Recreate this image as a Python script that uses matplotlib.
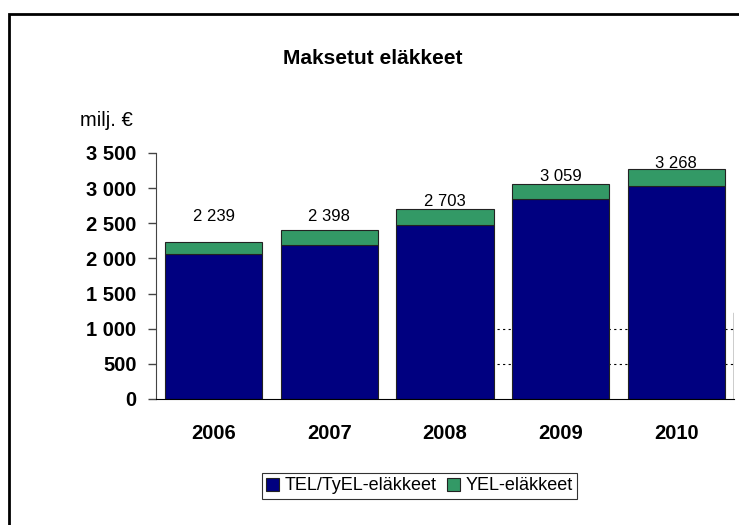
import matplotlib; matplotlib.use('Agg')

import matplotlib.pyplot as plt
from matplotlib.patches import Rectangle
import numpy as np

years = ["2006", "2007", "2008", "2009", "2010"]
totals = [2239, 2398, 2703, 3059, 3268]
tel_tyel = [2067, 2194, 2469, 2845, 3031]
yel = [t - a for t, a in zip(totals, tel_tyel)]
# label heights were placed by hand in the original
label_y = [2590, 2596, 2810, 3167, 3348]
yticks = [0, 500, 1000, 1500, 2000, 2500, 3000, 3500]

def fi(v):
    return "{:,}".format(v).replace(",", " ")

plt.rcParams['font.family'] = ['Liberation Sans', 'DejaVu Sans']

fig = plt.figure(figsize=(7.39, 5.25), dpi=100)
ax = fig.add_axes([156/739, 1-399/525, (734-156)/739, (399-153)/525])

x = np.arange(len(years))
# the stray dotted lines at 500 / 1000 on the right side
for v in yticks[1:3]:
    ax.axhline(v, xmin=0.59, xmax=1, color='black', ls=(0, (2, 3)), lw=0.8, zorder=0)
ax.axvline(4.5, ymin=0, ymax=0.35, color='black', lw=1, zorder=0)

ax.bar(x, tel_tyel, width=0.84, color='#000080', edgecolor='#222222', lw=0.8,
       label='TEL/TyEL-eläkkeet', zorder=2)
ax.bar(x, yel, width=0.84, bottom=tel_tyel, color='#339966', edgecolor='#222222', lw=0.8,
       label='YEL-eläkkeet', zorder=2)

for i, t in enumerate(totals):
    ax.text(x[i], label_y[i], fi(t), ha='center', va='center', fontsize=12)

ax.set_xlim(-0.5, 4.5)
ax.set_ylim(0, 3500)
ax.set_yticks(yticks)
ax.set_yticklabels([fi(v) for v in yticks], fontsize=14.5, fontweight='bold')
ax.set_xticks(x)
ax.set_xticklabels(years, fontsize=14.5, fontweight='bold')
ax.tick_params(axis='y', length=6, width=1, pad=8, color='#444444')
ax.tick_params(axis='x', length=0, pad=18)
for s in ['top', 'right']:
    ax.spines[s].set_visible(False)
ax.spines['left'].set_color('#444444')
ax.spines['bottom'].set_color('black')

fig.text(373/739, 1-59/525, "Maksetut eläkkeet", ha='center', va='center',
         fontsize=15, fontweight='bold')
fig.text(80/739, 1-120/525, "milj. €", ha='left', va='center', fontsize=14.5)

leg = fig.legend(loc='center', bbox_to_anchor=(419.5/739, 1-486/525), ncol=2,
                 fontsize=13, frameon=True, fancybox=False, handlelength=0.7,
                 handleheight=0.7, handletextpad=0.3, columnspacing=0.6,
                 borderpad=0.25, borderaxespad=0)
leg.get_frame().set_edgecolor('black')
leg.get_frame().set_linewidth(0.8)

fig.patches.append(Rectangle((9/739, -0.1), 1.1, 1.1 - 14/525, transform=fig.transFigure,
                             fill=False, edgecolor='black', lw=2, zorder=5))

plt.savefig('out.png', dpi=100)
